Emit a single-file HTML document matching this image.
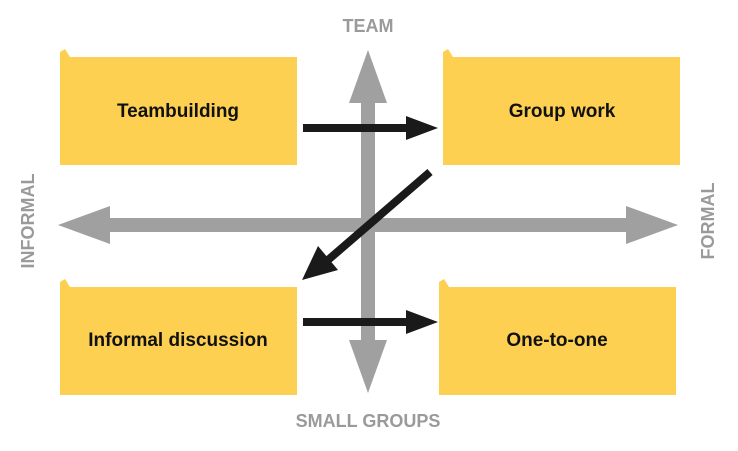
<!DOCTYPE html>
<html><head><style>
body{margin:0;width:738px;height:446px;background:#fff;overflow:hidden;font-family:"Liberation Sans",Arial,sans-serif}
</style></head><body>
<svg width="738" height="446" viewBox="0 0 738 446" xmlns="http://www.w3.org/2000/svg">
<g fill="#fdd052">
<path d="M60 57 L60 52 L65 49 L70 57 Z"/><rect x="60" y="57" width="237" height="108"/>
<path d="M443 57 L443 52 L448 49 L453 57 Z"/><rect x="443" y="57" width="237" height="108"/>
<path d="M60 287 L60 282 L65 279 L70 287 Z"/><rect x="60" y="287" width="237" height="108"/>
<path d="M439 287 L439 282 L444 279 L449 287 Z"/><rect x="439" y="287" width="237" height="108"/>
</g>
<g fill="#a0a0a0">
<rect x="361" y="100" width="14" height="250"/>
<polygon points="368,50 349,103 387,103"/>
<polygon points="368,393 349,340 387,340"/>
<rect x="100" y="218" width="540" height="14"/>
<polygon points="58,225 110,206 110,244"/>
<polygon points="678,225 626,206 626,244"/>
</g>
<g fill="#1a1a1a" stroke="#1a1a1a">
<line x1="303" y1="128" x2="410" y2="128" stroke-width="8"/>
<polygon points="438,128 406,116 406,140" stroke="none"/>
<line x1="303" y1="322" x2="410" y2="322" stroke-width="8"/>
<polygon points="438,322 406,310 406,334" stroke="none"/>
<line x1="430" y1="172" x2="328" y2="260" stroke-width="8"/>
<polygon points="302,280 318,246 338,270" stroke="none"/>
</g>
<g font-weight="bold" font-size="19" fill="#111" text-anchor="middle">
<text x="178" y="117">Teambuilding</text>
<text x="562" y="117">Group work</text>
<text x="178" y="346">Informal discussion</text>
<text x="557" y="346">One-to-one</text>
</g>
<g font-weight="bold" font-size="18" fill="#9a9a9a" text-anchor="middle">
<text x="368" y="32">TEAM</text>
<text x="368" y="427">SMALL GROUPS</text>
<text transform="translate(34,221) rotate(-90)">INFORMAL</text>
<text transform="translate(714,221) rotate(-90)">FORMAL</text>
</g>
</svg>
</body></html>
